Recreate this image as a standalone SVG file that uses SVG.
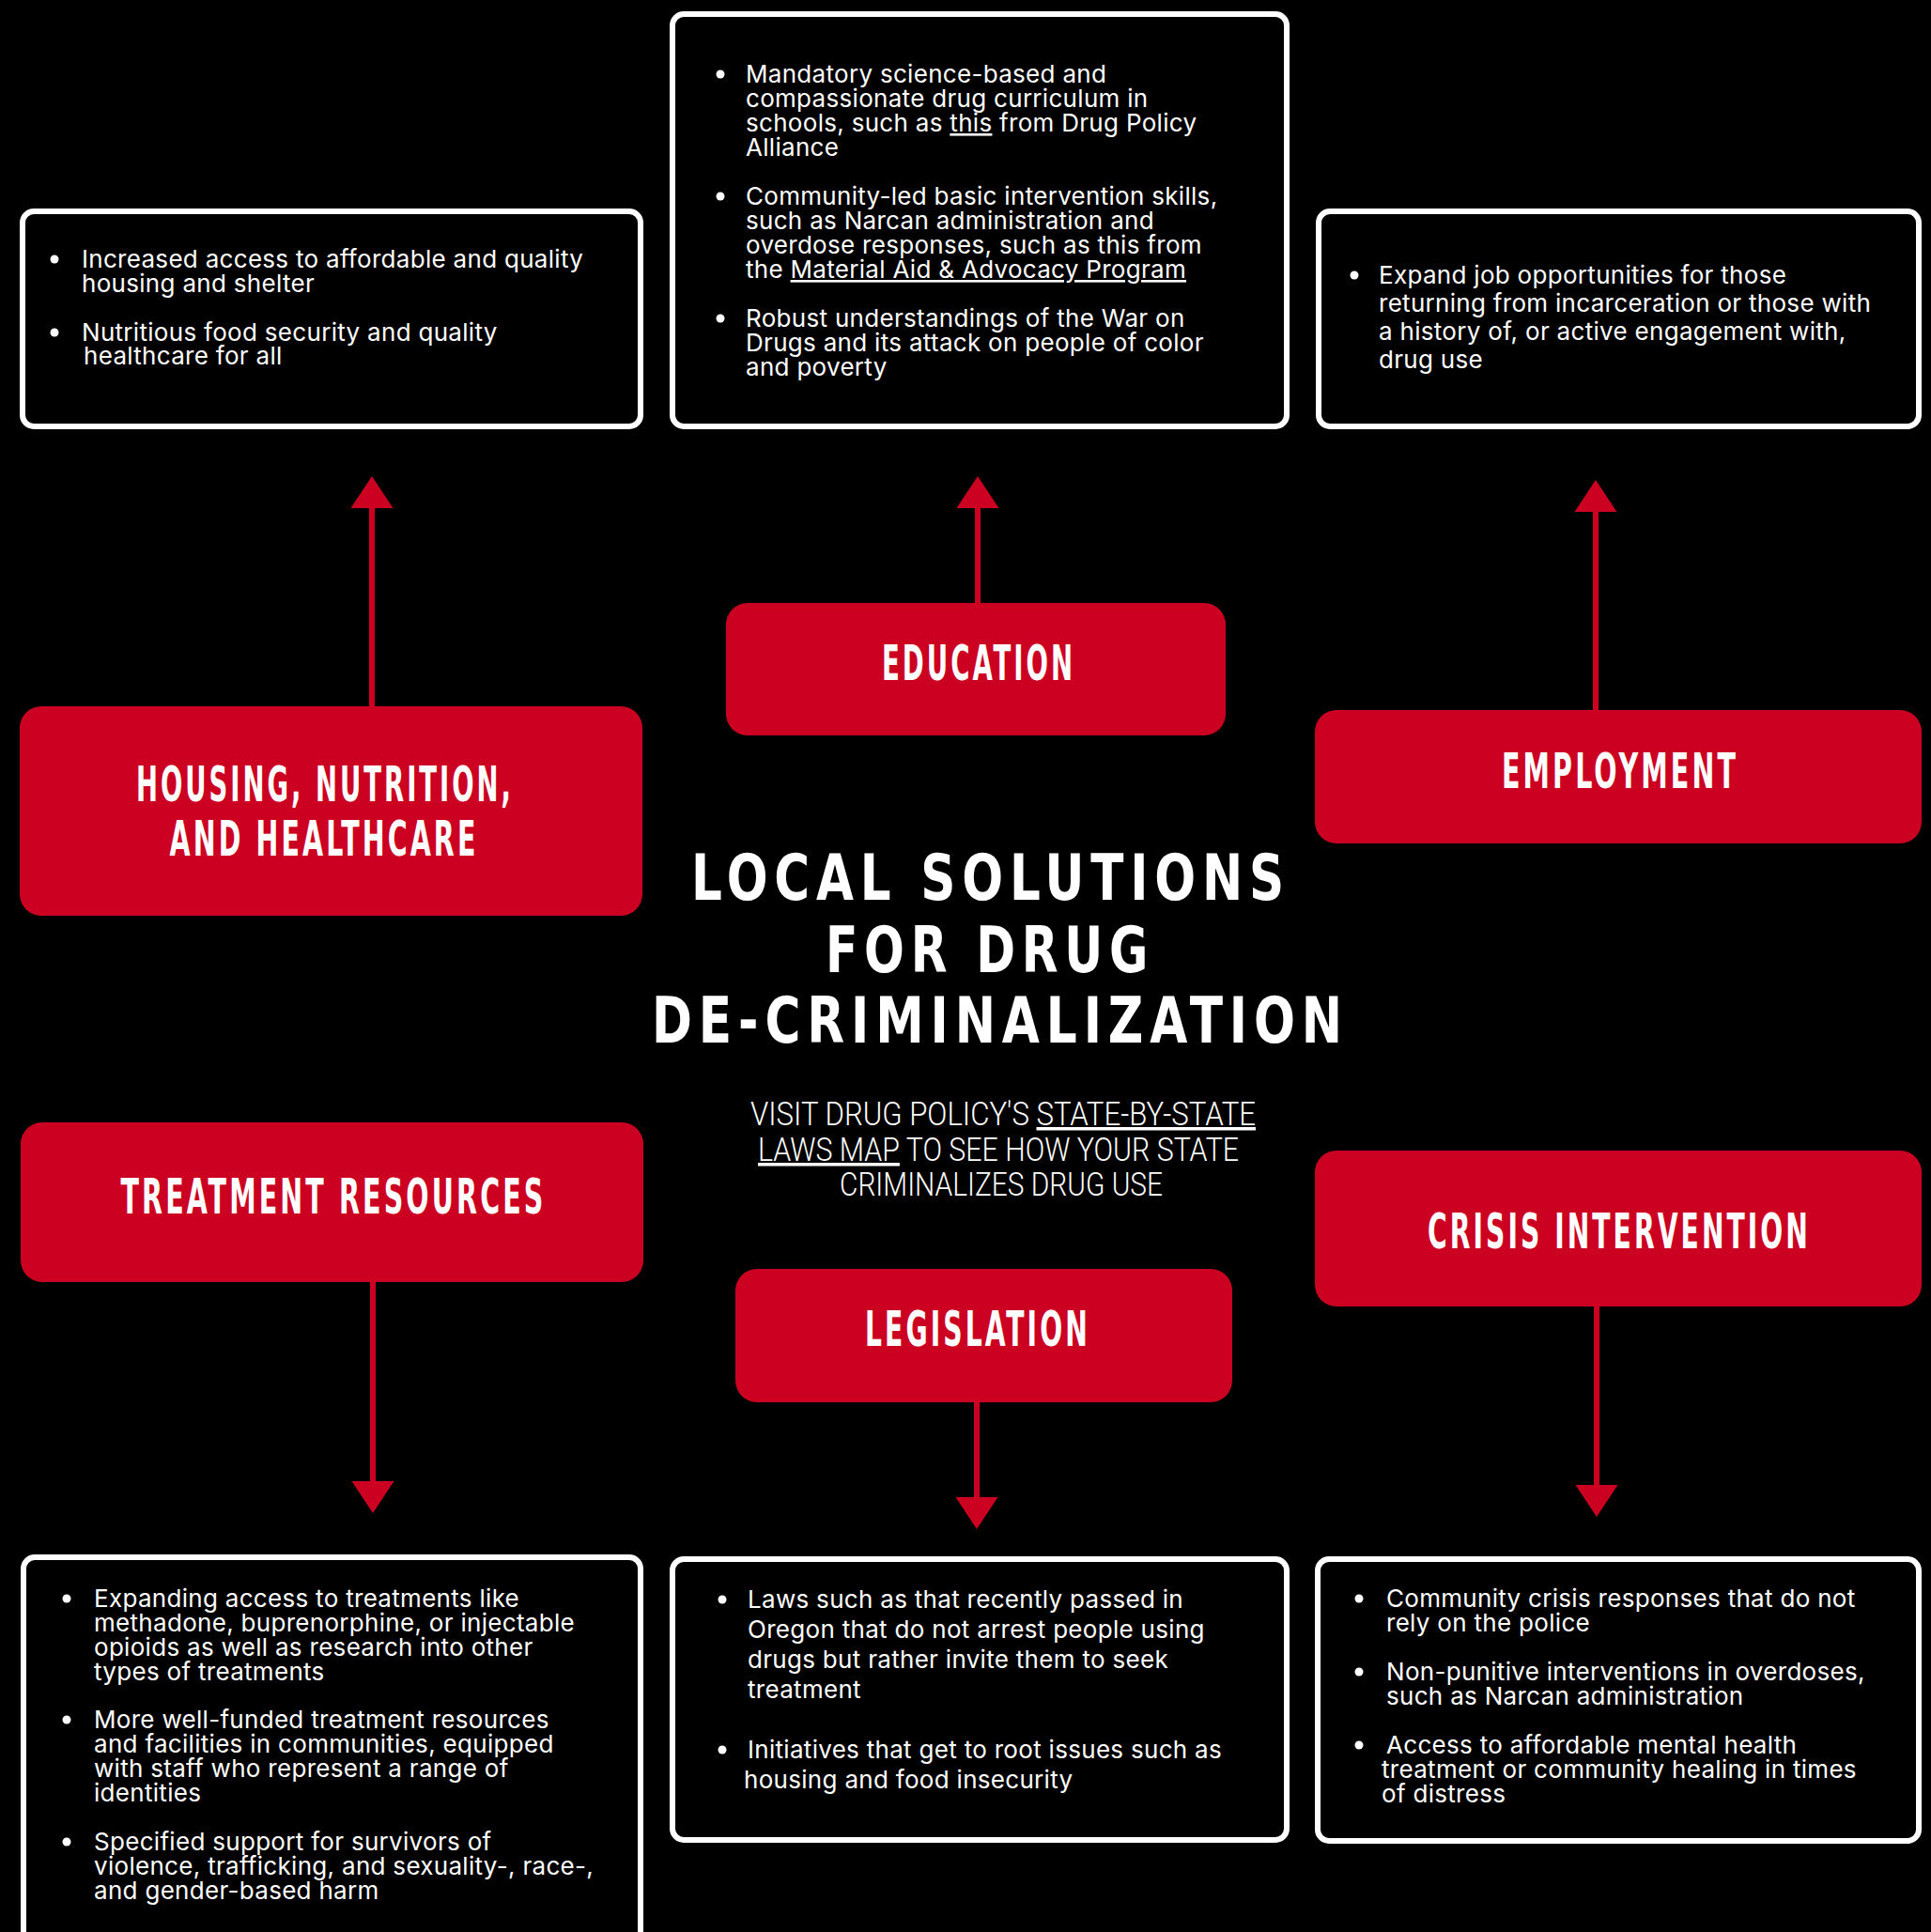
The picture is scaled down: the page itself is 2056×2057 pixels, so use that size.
<svg xmlns="http://www.w3.org/2000/svg" width="2056" height="2057" viewBox="0 0 2056 2057">
<style>
.bg{fill:#000}
.tbox{fill:#000;stroke:#fff;stroke-width:6}
.rbox{fill:#CC0020}
.head{font-family:"Liberation Sans Narrow","DejaVu Sans Condensed","Liberation Sans",sans-serif;font-weight:bold;font-size:51px;fill:#fff;text-anchor:middle;letter-spacing:5px}
.title{font-family:"Liberation Sans Narrow","DejaVu Sans Condensed","Liberation Sans",sans-serif;font-weight:bold;font-size:67px;fill:#fff;text-anchor:middle;letter-spacing:8px}
.sub{font-family:Roboto,"Liberation Sans",sans-serif;font-weight:300;font-size:35px;fill:#fff;text-anchor:middle}
.body{font-family:Inter,"Liberation Sans",sans-serif;font-size:26px;letter-spacing:0.3px;fill:#fff}
.u{text-decoration:underline}
.dot{fill:#fff}
.conn line{stroke:#CC0020;stroke-width:6}
</style>
<defs>
<marker id="ah" viewBox="0 0 34 45" markerUnits="userSpaceOnUse" markerWidth="34" markerHeight="45" refX="1" refY="22.5" orient="auto">
<path d="M0,0 L34,22.5 L0,45 Z" fill="#CC0020"/>
</marker>
</defs>
<rect class="bg" x="0" y="0" width="2056" height="2057"/>

<g id="connectors" class="conn">
<line x1="396" y1="753" x2="396" y2="540" marker-end="url(#ah)"/>
<line x1="1041" y1="643" x2="1041" y2="540" marker-end="url(#ah)"/>
<line x1="1699" y1="757" x2="1699" y2="544" marker-end="url(#ah)"/>
<line x1="397" y1="1364" x2="397" y2="1578" marker-end="url(#ah)"/>
<line x1="1040" y1="1492" x2="1040" y2="1595" marker-end="url(#ah)"/>
<line x1="1700" y1="1390" x2="1700" y2="1582" marker-end="url(#ah)"/>
</g>

<g id="box-housing-details">
<rect class="tbox" x="24" y="225" width="658" height="229" rx="12"/>
<circle class="dot" cx="58" cy="276" r="4.5"/>
<circle class="dot" cx="58" cy="354" r="4.5"/>
<text class="body"><tspan x="87" y="285">Increased access to affordable and quality</tspan><tspan x="87" y="311">housing and shelter</tspan><tspan x="87" y="363">Nutritious food security and quality</tspan><tspan x="89" y="388">healthcare for all</tspan></text>
</g>

<g id="box-education-details">
<rect class="tbox" x="716" y="15" width="654" height="439" rx="12"/>
<circle class="dot" cx="767" cy="79" r="4.5"/>
<circle class="dot" cx="767" cy="209" r="4.5"/>
<circle class="dot" cx="767" cy="339" r="4.5"/>
<text class="body"><tspan x="794" y="88">Mandatory science-based and</tspan><tspan x="794" y="114">compassionate drug curriculum in</tspan><tspan x="794" y="140">schools, such as <tspan class="u">this</tspan> from Drug Policy</tspan><tspan x="794" y="166">Alliance</tspan><tspan x="794" y="218">Community-led basic intervention skills,</tspan><tspan x="794" y="244">such as Narcan administration and</tspan><tspan x="794" y="270">overdose responses, such as this from</tspan><tspan x="794" y="296">the <tspan class="u">Material Aid &amp; Advocacy Program</tspan></tspan><tspan x="794" y="348">Robust understandings of the War on</tspan><tspan x="794" y="374">Drugs and its attack on people of color</tspan><tspan x="794" y="400">and poverty</tspan></text>
</g>

<g id="box-employment-details">
<rect class="tbox" x="1404" y="225" width="639" height="229" rx="12"/>
<circle class="dot" cx="1442" cy="293" r="4.5"/>
<text class="body"><tspan x="1468" y="302">Expand job opportunities for those</tspan><tspan x="1468" y="332">returning from incarceration or those with</tspan><tspan x="1468" y="362">a history of, or active engagement with,</tspan><tspan x="1468" y="392">drug use</tspan></text>
</g>

<g id="node-housing">
<rect class="rbox" x="21" y="752" width="663" height="223" rx="23"/>
<text class="head" x="346" y="853" textLength="402" lengthAdjust="spacingAndGlyphs">HOUSING, NUTRITION,</text>
<text class="head" x="345" y="911" textLength="329" lengthAdjust="spacingAndGlyphs">AND HEALTHCARE</text>
</g>

<g id="node-education">
<rect class="rbox" x="773" y="642" width="532" height="141" rx="23"/>
<text class="head" x="1042" y="724" textLength="206" lengthAdjust="spacingAndGlyphs">EDUCATION</text>
</g>

<g id="node-employment">
<rect class="rbox" x="1400" y="756" width="646" height="142" rx="23"/>
<text class="head" x="1725" y="839" textLength="252" lengthAdjust="spacingAndGlyphs">EMPLOYMENT</text>
</g>

<g id="title">
<text class="title" x="1055" y="958" textLength="638" lengthAdjust="spacingAndGlyphs">LOCAL SOLUTIONS</text>
<text class="title" x="1054" y="1035" textLength="350" lengthAdjust="spacingAndGlyphs">FOR DRUG</text>
<text class="title" x="1065" y="1110" textLength="742" lengthAdjust="spacingAndGlyphs">DE-CRIMINALIZATION</text>
</g>

<g id="subtitle">
<text class="sub" x="1068" y="1198" textLength="538" lengthAdjust="spacingAndGlyphs">VISIT DRUG POLICY'S <tspan class="u">STATE-BY-STATE </tspan></text>
<text class="sub" x="1063" y="1236" textLength="512" lengthAdjust="spacingAndGlyphs"><tspan class="u">LAWS MAP</tspan> TO SEE HOW YOUR STATE</text>
<text class="sub" x="1066" y="1273" textLength="344" lengthAdjust="spacingAndGlyphs">CRIMINALIZES DRUG USE</text>
</g>

<g id="node-treatment">
<rect class="rbox" x="22" y="1195" width="663" height="170" rx="23"/>
<text class="head" x="355" y="1292" textLength="453" lengthAdjust="spacingAndGlyphs">TREATMENT RESOURCES</text>
</g>

<g id="node-legislation">
<rect class="rbox" x="783" y="1351" width="529" height="142" rx="23"/>
<text class="head" x="1041" y="1433" textLength="240" lengthAdjust="spacingAndGlyphs">LEGISLATION</text>
</g>

<g id="node-crisis">
<rect class="rbox" x="1400" y="1225" width="646" height="166" rx="23"/>
<text class="head" x="1724" y="1329" textLength="408" lengthAdjust="spacingAndGlyphs">CRISIS INTERVENTION</text>
</g>

<g id="box-treatment-details">
<rect class="tbox" x="25" y="1658" width="657" height="440" rx="12"/>
<circle class="dot" cx="71" cy="1702" r="4.5"/>
<circle class="dot" cx="71" cy="1831" r="4.5"/>
<circle class="dot" cx="71" cy="1961" r="4.5"/>
<text class="body"><tspan x="100" y="1711">Expanding access to treatments like</tspan><tspan x="100" y="1737">methadone, buprenorphine, or injectable</tspan><tspan x="100" y="1763">opioids as well as research into other</tspan><tspan x="100" y="1789">types of treatments</tspan><tspan x="100" y="1840">More well-funded treatment resources</tspan><tspan x="100" y="1866">and facilities in communities, equipped</tspan><tspan x="100" y="1892">with staff who represent a range of</tspan><tspan x="100" y="1918">identities</tspan><tspan x="100" y="1970">Specified support for survivors of</tspan><tspan x="100" y="1996">violence, trafficking, and sexuality-, race-,</tspan><tspan x="100" y="2022">and gender-based harm</tspan></text>
</g>

<g id="box-legislation-details">
<rect class="tbox" x="716" y="1660" width="654" height="299" rx="12"/>
<circle class="dot" cx="769" cy="1703" r="4.5"/>
<circle class="dot" cx="769" cy="1863" r="4.5"/>
<text class="body"><tspan x="796" y="1712">Laws such as that recently passed in</tspan><tspan x="796" y="1744">Oregon that do not arrest people using</tspan><tspan x="796" y="1776">drugs but rather invite them to seek</tspan><tspan x="796" y="1808">treatment</tspan><tspan x="796" y="1872">Initiatives that get to root issues such as</tspan><tspan x="792" y="1904">housing and food insecurity</tspan></text>
</g>

<g id="box-crisis-details">
<rect class="tbox" x="1403" y="1660" width="640" height="300" rx="12"/>
<circle class="dot" cx="1447" cy="1702" r="4.5"/>
<circle class="dot" cx="1447" cy="1780" r="4.5"/>
<circle class="dot" cx="1447" cy="1858" r="4.5"/>
<text class="body"><tspan x="1476" y="1711">Community crisis responses that do not</tspan><tspan x="1476" y="1737">rely on the police</tspan><tspan x="1476" y="1789">Non-punitive interventions in overdoses,</tspan><tspan x="1476" y="1815">such as Narcan administration</tspan><tspan x="1476" y="1867">Access to affordable mental health</tspan><tspan x="1471" y="1893">treatment or community healing in times</tspan><tspan x="1471" y="1919">of distress</tspan></text>
</g>
</svg>
